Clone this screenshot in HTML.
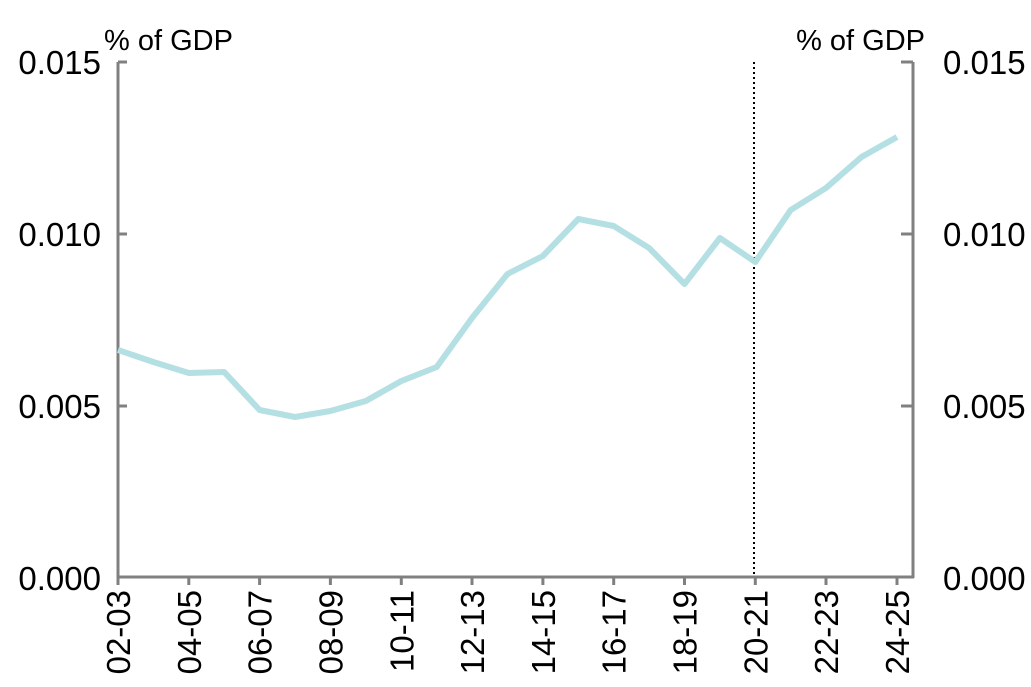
<!DOCTYPE html>
<html><head><style>body{margin:0;background:#fff}svg{display:block}</style></head><body>
<svg width="1031" height="687" xmlns="http://www.w3.org/2000/svg" font-family="Liberation Sans, sans-serif">
<g fill="#000">
<text x="104" y="50" font-size="29">% of GDP</text>
<text x="925" y="50" font-size="29" text-anchor="end">% of GDP</text>
<g text-anchor="end" font-size="33">
<text x="101" y="74">0.015</text><text x="101" y="246">0.010</text><text x="101" y="418">0.005</text><text x="101" y="590">0.000</text>
</g>
<g font-size="33">
<text x="943" y="74">0.015</text><text x="943" y="246">0.010</text><text x="943" y="418">0.005</text><text x="943" y="590">0.000</text>
</g>
</g>
<g stroke="#808080" stroke-width="3" fill="none">
<line x1="118" y1="62" x2="118" y2="578"/>
<line x1="913" y1="62" x2="913" y2="578"/>
<line x1="117" y1="577" x2="914" y2="577"/>
<path d="M118 62h9M118 234h9M118 406h9M913 62h-12M913 234h-12M913 406h-12"/>
<path d="M118 577v8M188.8 577v8M259.6 577v8M330.4 577v8M401.3 577v8M472 577v8M542.9 577v8M613.7 577v8M684.5 577v8M755.3 577v8M826 577v8M897 577v8"/>
</g>
<line x1="754" y1="62" x2="754" y2="577" stroke="#000" stroke-width="2" stroke-dasharray="2,3"/>
<polyline fill="none" stroke="#b4e0e4" stroke-width="6" stroke-linejoin="round" points="118,350 153.4,362 188.8,373 224.2,372 259.6,410 295,417 330.4,411 365.8,401 401.3,381 436.7,367 472,318 507.5,274 542.9,256 578.3,219 613.7,226 649.1,248 684.5,284 719.9,238 755.3,262 790.7,210 826,188 861.5,157 897,137"/>
<g font-size="33" text-anchor="end">
<text transform="translate(130,590) rotate(-90)">02-03</text>
<text transform="translate(200.8,590) rotate(-90)">04-05</text>
<text transform="translate(271.6,590) rotate(-90)">06-07</text>
<text transform="translate(342.4,590) rotate(-90)">08-09</text>
<text transform="translate(413.3,590) rotate(-90)">10-11</text>
<text transform="translate(484,590) rotate(-90)">12-13</text>
<text transform="translate(554.9,590) rotate(-90)">14-15</text>
<text transform="translate(625.7,590) rotate(-90)">16-17</text>
<text transform="translate(696.5,590) rotate(-90)">18-19</text>
<text transform="translate(767.3,590) rotate(-90)">20-21</text>
<text transform="translate(838,590) rotate(-90)">22-23</text>
<text transform="translate(909,590) rotate(-90)">24-25</text>
</g>
</svg>
</body></html>
